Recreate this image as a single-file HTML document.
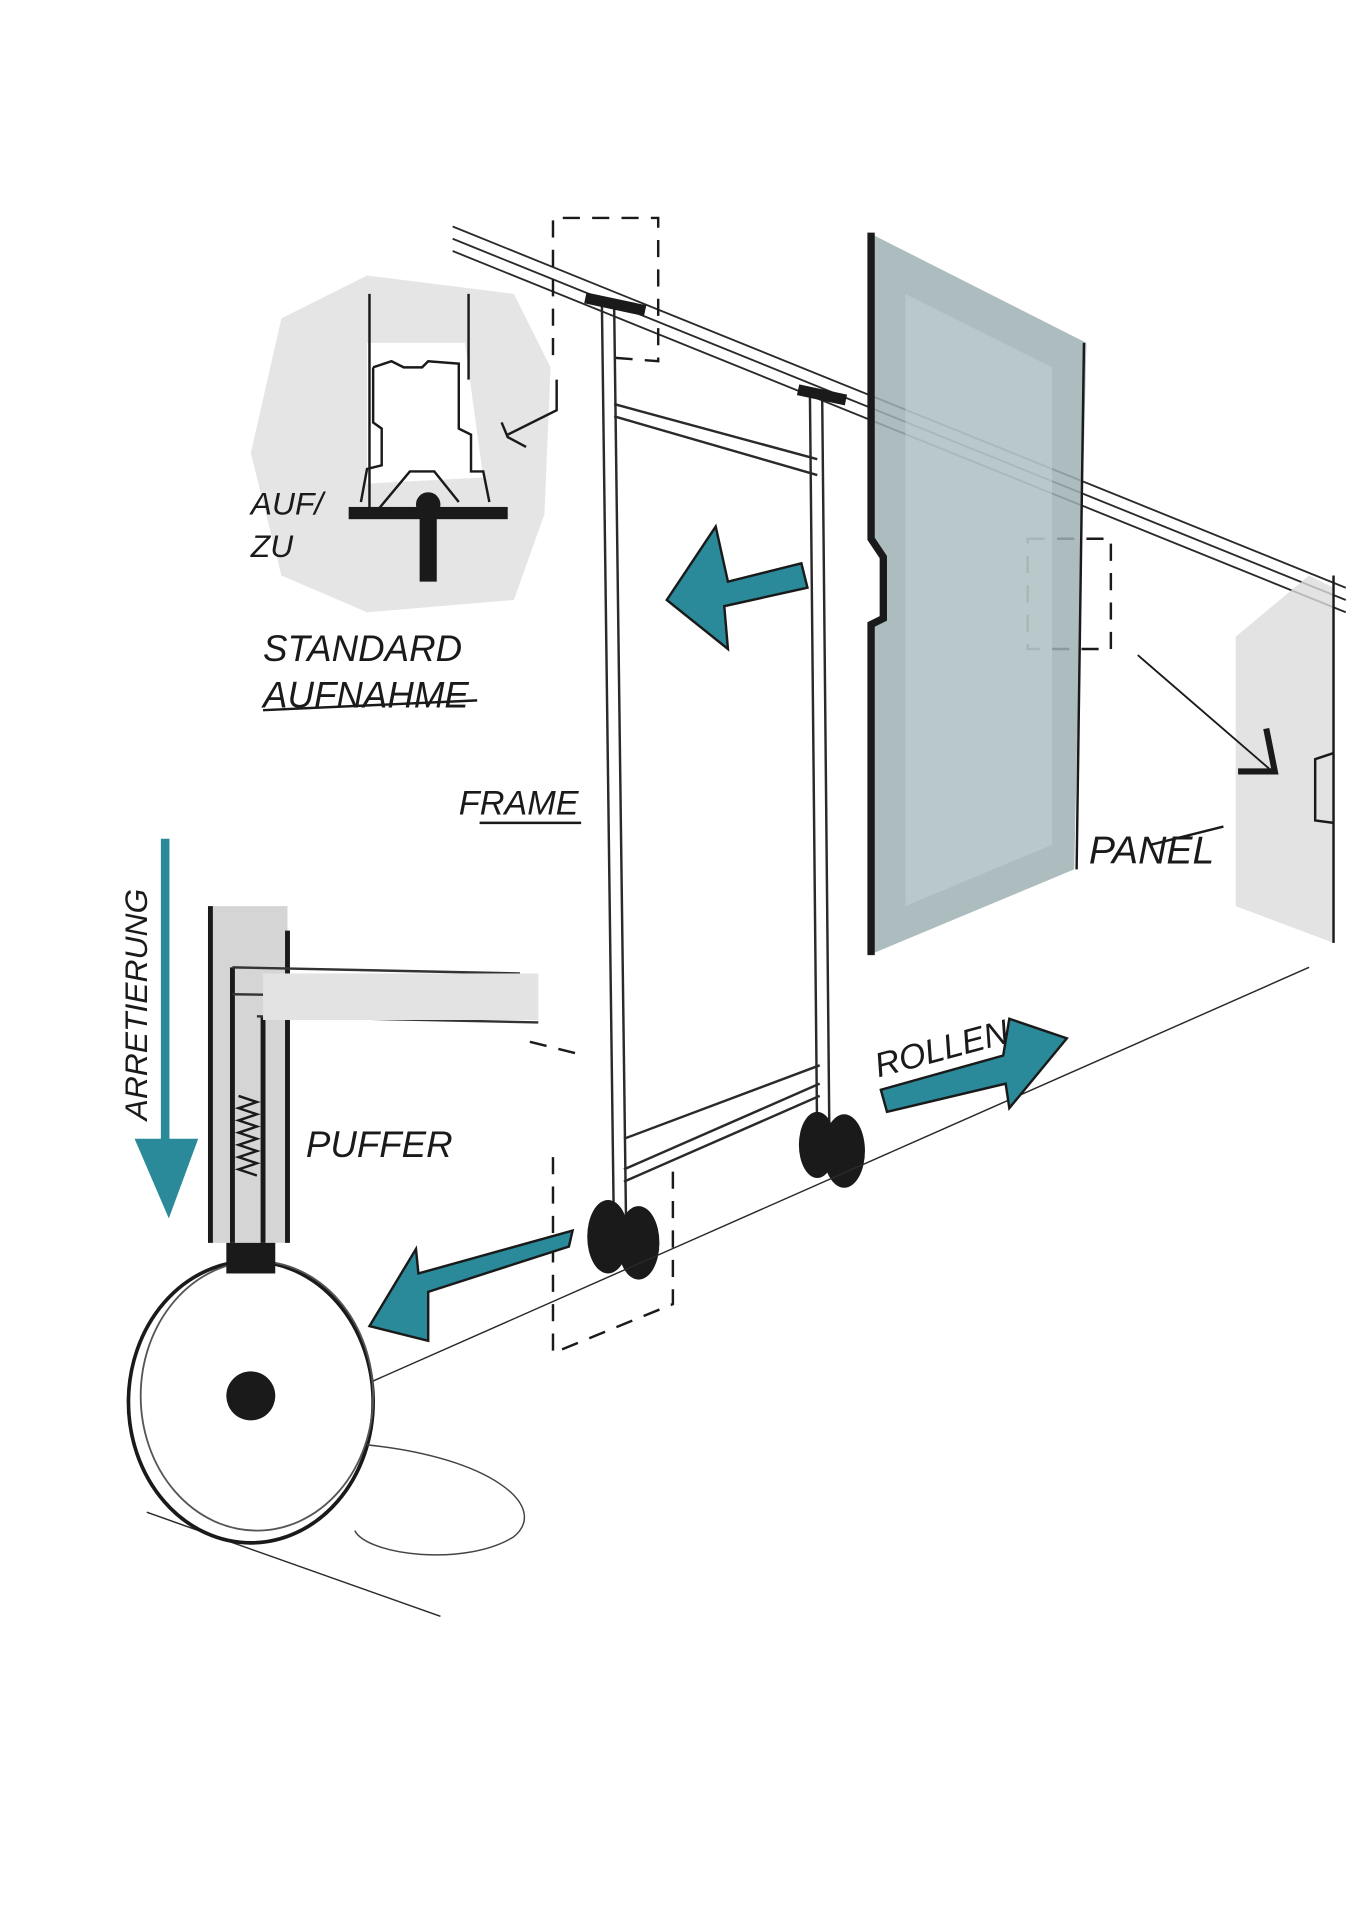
<!DOCTYPE html>
<html><head><meta charset="utf-8"><style>
html,body{margin:0;padding:0;background:#fff;}
svg{display:block;}
text{font-family:"Liberation Sans",sans-serif;fill:#1a1a1a;font-style:italic;}
</style></head><body>
<svg width="1358" height="1920" viewBox="0 0 1110 1568" preserveAspectRatio="none" xmlns="http://www.w3.org/2000/svg">
<rect width="1110" height="1568" fill="#fff"/>
<path d="M230 260 L300 225 L420 240 L450 300 L445 420 L420 490 L300 500 L230 470 L205 370 Z" fill="#dcdcdc" opacity="0.75"/>
<path d="M300 280 L380 280 L395 390 L300 395 Z" fill="#fff"/>
<g stroke="#1a1a1a" stroke-width="2" fill="none">
<line x1="302" y1="240" x2="302" y2="420"/>
<line x1="383" y1="240" x2="383" y2="310"/>
<path d="M305 300 L320 295 L330 300 L345 300 L350 295 L375 297 L375 350 L385 355 L385 385 L395 385 L400 410"/>
<path d="M305 300 L305 345 L312 350 L312 380 L300 383 L295 410"/>
<path d="M310 415 L335 385 L355 385 L375 410"/>
<path d="M455 310 L455 335 L415 355 M410 345 L415 357 L430 365"/>
</g>
<rect x="285" y="414" width="130" height="10" fill="#1a1a1a"/>
<rect x="343" y="420" width="14" height="55" fill="#1a1a1a"/>
<circle cx="350" cy="412" r="10" fill="#1a1a1a"/>
<text x="205" y="420" font-size="26">AUF/</text>
<text x="205" y="455" font-size="26">ZU</text>
<text x="215" y="540" font-size="30">STANDARD</text>
<text x="215" y="578" font-size="30">AUFNAHME</text>
<line x1="215" y1="580" x2="390" y2="572" stroke="#1a1a1a" stroke-width="2"/>
<g stroke="#2a2a2a" stroke-width="1.5" fill="none">
<line x1="370" y1="185" x2="1100" y2="480"/>
<line x1="370" y1="195" x2="1100" y2="490"/>
<line x1="370" y1="205" x2="1100" y2="500"/>
</g>
<g stroke="#1a1a1a" stroke-width="2" fill="none" stroke-dasharray="14 10">
<path d="M452 290 L452 178 L538 178 L538 295 L500 292"/>
<path d="M840 440 L908 440 L908 530 L840 530 Z"/>
<path d="M470 860 L430 850 M452 945 L452 1105 L550 1065 L550 950"/>
</g>
<path d="M710 190 L888 280 L878 710 L710 780 L710 510 L722 505 L722 455 L710 440 Z" fill="#9fb0b4" opacity="0.85"/>
<path d="M740 240 L860 300 L860 690 L740 740 Z" fill="#c6d3d6" opacity="0.5"/>
<path d="M712 190 L712 440 L722 455 L722 505 L712 510 L712 780" stroke="#1a1a1a" stroke-width="6" fill="none"/>
<line x1="886" y1="280" x2="880" y2="710" stroke="#1a1a1a" stroke-width="2"/>
<text x="890" y="705" font-size="32">PANEL</text>
<line x1="940" y1="690" x2="1000" y2="675" stroke="#1a1a1a" stroke-width="2"/>
<path d="M1010 520 L1070 470 L1090 480 L1090 770 L1010 740 Z" fill="#dcdcdc" opacity="0.8"/>
<line x1="1090" y1="470" x2="1090" y2="770" stroke="#1a1a1a" stroke-width="2"/>
<path d="M1090 615 L1075 620 L1075 670 L1090 672" stroke="#1a1a1a" stroke-width="2" fill="none"/>
<line x1="930" y1="535" x2="1040" y2="630" stroke="#1a1a1a" stroke-width="1.5"/>
<path d="M1035 595 L1042 630 L1012 630" stroke="#1a1a1a" stroke-width="5" fill="none"/>
<g stroke="#2a2a2a" stroke-width="2" fill="none">
<line x1="492" y1="250" x2="502" y2="1020"/>
<line x1="502" y1="250" x2="512" y2="1020"/>
<line x1="662" y1="320" x2="668" y2="935"/>
<line x1="672" y1="320" x2="678" y2="935"/>
<line x1="502" y1="330" x2="668" y2="375"/>
<line x1="502" y1="340" x2="668" y2="388"/>
<line x1="510" y1="955" x2="670" y2="885"/>
<line x1="510" y1="965" x2="670" y2="895"/>
<line x1="510" y1="930" x2="670" y2="870"/>
</g>
<rect x="478" y="244" width="50" height="9" fill="#1a1a1a" transform="rotate(12 503 248)"/>
<rect x="652" y="318" width="40" height="9" fill="#1a1a1a" transform="rotate(12 672 322)"/>
<text x="375" y="665" font-size="28">FRAME</text>
<line x1="392" y1="672" x2="475" y2="672" stroke="#1a1a1a" stroke-width="2"/>
<ellipse cx="497" cy="1010" rx="17" ry="30" fill="#1a1a1a"/>
<ellipse cx="522" cy="1015" rx="17" ry="30" fill="#1a1a1a"/>
<ellipse cx="668" cy="935" rx="15" ry="27" fill="#1a1a1a"/>
<ellipse cx="690" cy="940" rx="17" ry="30" fill="#1a1a1a"/>
<g stroke="#2a2a2a" stroke-width="1.2">
<line x1="300" y1="1130" x2="1070" y2="790"/>
<line x1="120" y1="1235" x2="360" y2="1320"/>
</g>
<ellipse cx="205" cy="1145" rx="100" ry="115" fill="#fff" stroke="#1a1a1a" stroke-width="3"/>
<ellipse cx="210" cy="1140" rx="95" ry="110" fill="none" stroke="#555" stroke-width="1.5"/>
<circle cx="205" cy="1140" r="20" fill="#1a1a1a"/>
<path d="M300 1180 C400 1190 450 1230 420 1255 C380 1280 300 1270 290 1250" fill="none" stroke="#444" stroke-width="1.2"/>
<rect x="170" y="740" width="65" height="275" fill="#d5d5d5"/>
<g stroke="#1a1a1a" stroke-width="4" fill="none">
<line x1="172" y1="740" x2="172" y2="1015"/>
<line x1="235" y1="760" x2="235" y2="1015"/>
<line x1="190" y1="790" x2="190" y2="1015"/>
<line x1="215" y1="830" x2="215" y2="1015"/>
</g>
<path d="M190 790 L425 795 M210 830 L440 835 M190 812 L420 815" stroke="#333" stroke-width="2" fill="none"/>
<rect x="215" y="795" width="225" height="38" fill="#e3e3e3"/>
<path d="M195 895 L210 900 L195 905 L210 910 L195 915 L210 920 L195 925 L210 930 L195 935 L210 940 L195 945 L210 950 L195 955 L210 960" stroke="#1a1a1a" stroke-width="2" fill="none"/>
<rect x="185" y="1015" width="40" height="25" fill="#1a1a1a"/>
<text x="250" y="945" font-size="30">PUFFER</text>
<text x="0" y="0" font-size="26" transform="translate(120 915) rotate(-90)">ARRETIERUNG</text>
<line x1="135" y1="685" x2="135" y2="940" stroke="#2a8a99" stroke-width="7"/>
<path d="M110 930 L162 930 L138 995 Z" fill="#2a8a99"/>
<path d="M655 460 L595 475 L585 430 L545 490 L595 530 L592 495 L660 480 Z" fill="#2a8a99" stroke="#1a1a1a" stroke-width="2"/>
<path d="M720 890 L820 862 L825 832 L872 848 L825 905 L822 885 L725 908 Z" fill="#2a8a99" stroke="#1a1a1a" stroke-width="2"/>
<text x="718" y="880" font-size="28" transform="rotate(-15 718 880)">ROLLEN</text>
<path d="M468 1005 L465 1018 L350 1055 L350 1095 L302 1083 L340 1020 L342 1040 Z" fill="#2a8a99" stroke="#1a1a1a" stroke-width="2"/>
</svg>
</body></html>
